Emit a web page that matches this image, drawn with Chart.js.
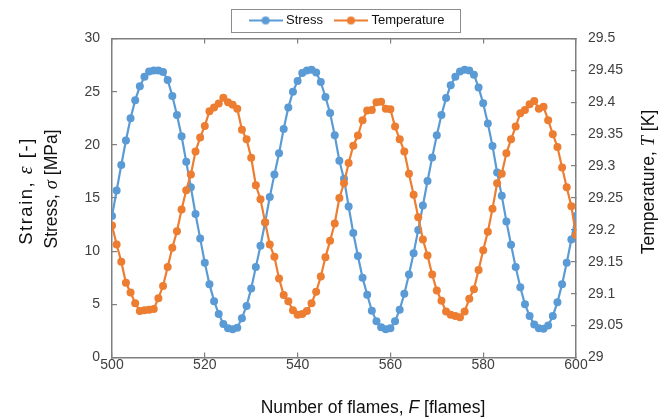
<!DOCTYPE html>
<html>
<head>
<meta charset="utf-8">
<script src="https://cdn.jsdelivr.net/npm/chart.js@4.4.1/dist/chart.umd.min.js"></script>
<style>
  body { margin: 0; background: #fff; }
  #wrap { width: 668px; height: 419px; }
</style>
</head>
<body>
<div id="wrap"><canvas id="chart" width="668" height="419"></canvas></div>
<script>
// =========================
// DATA
// =========================

const frames = [
  500, 501, 502, 503, 504, 505, 506, 507, 508, 509,
  510, 511, 512, 513, 514, 515, 516, 517, 518, 519,
  520, 521, 522, 523, 524, 525, 526, 527, 528, 529,
  530, 531, 532, 533, 534, 535, 536, 537, 538, 539,
  540, 541, 542, 543, 544, 545, 546, 547, 548, 549,
  550, 551, 552, 553, 554, 555, 556, 557, 558, 559,
  560, 561, 562, 563, 564, 565, 566, 567, 568, 569,
  570, 571, 572, 573, 574, 575, 576, 577, 578, 579,
  580, 581, 582, 583, 584, 585, 586, 587, 588, 589,
  590, 591, 592, 593, 594, 595, 596, 597, 598, 599,
  600
];

// stress [MPa]
const stress = [
  13.3, 15.7, 18.1, 20.4, 22.5, 24.2, 25.5, 26.4, 26.9, 27.0,
  27.0, 26.85, 26.1, 24.6, 22.8, 20.8, 18.4, 16.0, 13.5, 11.2,
  8.9, 6.9, 5.3, 4.1, 3.15, 2.75, 2.65, 2.8, 3.7, 4.85,
  6.5, 8.5, 10.5, 12.7, 15.1, 17.2, 19.2, 21.5, 23.5, 25.0,
  26.0, 26.75, 27.0, 27.05, 26.8, 25.9, 24.5, 23.0, 20.9, 18.5,
  16.8, 14.2, 11.7, 9.55, 7.5, 5.9, 4.4, 3.4, 2.85, 2.65,
  2.75, 3.4, 4.5, 6.0, 7.8, 9.8, 12.0, 14.3, 16.6, 18.8,
  20.9, 22.8, 24.4, 25.6, 26.4, 26.9, 27.05, 27.0, 26.6, 25.4,
  23.9, 22.0, 19.9, 17.4, 15.2, 12.8, 10.6, 8.5, 6.6, 5.0,
  3.9, 3.1, 2.75, 2.7, 3.0, 3.9, 5.2, 6.9, 8.9, 11.1,
  13.3
];

// temperature [K]
const temperature = [
  29.207, 29.177, 29.150, 29.117, 29.102, 29.085, 29.073, 29.074, 29.075, 29.076,
  29.093, 29.112, 29.142, 29.172, 29.198, 29.232, 29.262, 29.287, 29.323, 29.345,
  29.363, 29.386, 29.392, 29.398, 29.407, 29.400, 29.396, 29.390, 29.357, 29.342,
  29.313, 29.270, 29.248, 29.212, 29.177, 29.158, 29.124, 29.098, 29.088, 29.074,
  29.067, 29.068, 29.073, 29.085, 29.103, 29.127, 29.157, 29.183, 29.210, 29.250,
  29.273, 29.305, 29.332, 29.348, 29.372, 29.387, 29.388, 29.400, 29.401, 29.390,
  29.389, 29.362, 29.342, 29.323, 29.288, 29.255, 29.220, 29.185, 29.160, 29.130,
  29.105, 29.089, 29.072, 29.067, 29.065, 29.063, 29.072, 29.092, 29.107, 29.137,
  29.168, 29.197, 29.233, 29.273, 29.288, 29.320, 29.342, 29.362, 29.383, 29.388,
  29.397, 29.402, 29.390, 29.393, 29.372, 29.350, 29.330, 29.298, 29.267, 29.237,
  29.192
];

const seriesNames = ["Stress", "Temperature"];
const seriesColors = ["#5B9BD5", "#ED7D31"];

const stressTicks = { min: 0, max: 30, step: 5 };
const tempTicks = { min: 29, max: 29.5, step: 0.05 };
const frameTicks = { min: 500, max: 600, step: 20 };

// =========================
// STYLE
// =========================

const FONT = "'Liberation Sans', Arial, sans-serif";
const SERIF = "'Liberation Serif', 'Times New Roman', serif";
const axisGrey = "#7f7f7f";
const tickText = "#404040";

// legend sample: a short line with a marker
function legendSample(color)
{
  const c = document.createElement("canvas");
  c.width = 34;
  c.height = 10;
  const g = c.getContext("2d");
  g.strokeStyle = color;
  g.lineWidth = 2.2;
  g.beginPath();
  g.moveTo(0, 5);
  g.lineTo(34, 5);
  g.stroke();
  g.fillStyle = color;
  g.beginPath();
  g.arc(17, 5, 4, 0, Math.PI * 2);
  g.fill();
  return c;
}

const samples = seriesColors.map(legendSample);

// text with italic symbol parts, centred on (cx, cy)
function drawParts(ctx, parts, cx, cy, angle, spacing)
{
  ctx.save();
  ctx.translate(cx, cy);
  ctx.rotate(angle);
  ctx.textBaseline = "middle";
  ctx.textAlign = "left";
  ctx.fillStyle = "#111";
  if (spacing) ctx.letterSpacing = spacing;

  let total = 0;
  parts.forEach(p => {
    ctx.font = p.font;
    total += ctx.measureText(p.text).width;
  });

  let x = -total / 2;
  parts.forEach(p => {
    ctx.font = p.font;
    ctx.fillText(p.text, x, 0);
    x += ctx.measureText(p.text).width;
  });
  ctx.restore();
}

const titleSize = 17.5;
const plain = `${titleSize}px ${FONT}`;
const italicSans = `italic ${titleSize}px ${FONT}`;
const italicSerif = `italic ${titleSize + 1}px ${SERIF}`;
const strainPlain = `18.5px ${FONT}`;
const strainItalic = `italic 20px ${SERIF}`;

const titlesPlugin = {
  id: "axisTitles",
  afterDraw(chart)
  {
    const ctx = chart.ctx;

    drawParts(ctx, [
      { text: "Number of flames, ", font: plain },
      { text: "F", font: italicSans },
      { text: " [flames]", font: plain }
    ], 373, 408, 0);

    drawParts(ctx, [
      { text: "Strain, ", font: strainPlain },
      { text: "ε", font: strainItalic },
      { text: " [-]", font: strainPlain }
    ], 27, 191, -Math.PI / 2, "1.5px");

    drawParts(ctx, [
      { text: "Stress, ", font: plain },
      { text: "σ", font: italicSerif },
      { text: " [MPa]", font: plain }
    ], 52, 189, -Math.PI / 2);

    drawParts(ctx, [
      { text: "Temperature, ", font: plain },
      { text: "T", font: italicSerif },
      { text: " [K]", font: plain }
    ], 649, 182, -Math.PI / 2);
  }
};

// grey frame round the legend
const legendBoxPlugin = {
  id: "legendBox",
  afterDraw(chart)
  {
    const boxes = chart.legend && chart.legend.legendHitBoxes;
    if (!boxes || !boxes.length) return;
    const first = boxes[0];
    const last = boxes[boxes.length - 1];
    const ctx = chart.ctx;
    ctx.save();
    ctx.strokeStyle = "#8c8c8c";
    ctx.lineWidth = 1;
    const left = Math.round(first.left - 21) + 0.5;
    const right = Math.round(last.left + last.width + 16) + 0.5;
    const top = Math.round(first.top - 5) + 0.5;
    const bottom = Math.round(first.top + first.height + 5) + 0.5;
    ctx.strokeRect(left, top, right - left, bottom - top);
    ctx.restore();
  }
};

function innerGrid()
{
  return {
    drawOnChartArea: false,
    drawTicks: true,
    tickLength: -5,
    color: axisGrey,
    lineWidth: 1.2
  };
}

// 29.50 -> "29.5", 29.00 -> "29"
function shortNumber(v)
{
  return String(Number(Number(v).toFixed(2)));
}

const axisBorder = { display: true, color: axisGrey, width: 1.5 };
const tickFont = { family: FONT, size: 14 };

// =========================
// CHART
// =========================

new Chart(document.getElementById("chart"), {
  type: "line",
  data: {
    datasets: [
      {
        label: seriesNames[0],
        data: frames.map((f, i) => ({ x: f, y: stress[i] })),
        yAxisID: "y",
        borderColor: seriesColors[0],
        backgroundColor: seriesColors[0],
        borderWidth: 2.2,
        pointRadius: 4,
        pointBorderWidth: 0,
        pointBackgroundColor: seriesColors[0],
        tension: 0,
        order: 1
      },
      {
        label: seriesNames[1],
        data: frames.map((f, i) => ({ x: f, y: temperature[i] })),
        yAxisID: "y1",
        borderColor: seriesColors[1],
        backgroundColor: seriesColors[1],
        borderWidth: 2.2,
        pointRadius: 4,
        pointBorderWidth: 0,
        pointBackgroundColor: seriesColors[1],
        tension: 0,
        order: 0
      }
    ]
  },
  options: {
    responsive: false,
    animation: false,
    devicePixelRatio: 1,
    layout: { padding: { left: 28, right: 0, top: 0, bottom: 0 } },
    plugins: {
      tooltip: { enabled: false },
      legend: {
        display: true,
        position: "top",
        labels: {
          usePointStyle: true,
          pointStyleWidth: 28,
          padding: 14,
          color: "#111",
          font: { family: FONT, size: 13 },
          sort: (a, b) => a.datasetIndex - b.datasetIndex,
          generateLabels(chart)
          {
            const items =
              Chart.defaults.plugins.legend.labels.generateLabels(chart);
            items.forEach(it => { it.pointStyle = samples[it.datasetIndex]; });
            return items;
          }
        }
      }
    },
    scales: {
      x: {
        type: "linear",
        position: "bottom",
        min: frameTicks.min,
        max: frameTicks.max,
        ticks: {
          stepSize: frameTicks.step,
          padding: 4,
          color: tickText,
          font: tickFont,
          maxRotation: 0,
          callback: shortNumber
        },
        grid: innerGrid(),
        border: axisBorder,
        afterFit(scale) { scale.height = 61.5; }
      },
      x2: {
        type: "linear",
        position: "top",
        display: true,
        min: frameTicks.min,
        max: frameTicks.max,
        ticks: { stepSize: frameTicks.step, display: false },
        grid: innerGrid(),
        border: axisBorder,
        afterFit(scale) { scale.height = 1.5; }
      },
      y: {
        type: "linear",
        position: "left",
        min: stressTicks.min,
        max: stressTicks.max,
        ticks: {
          stepSize: stressTicks.step,
          padding: 17,
          color: tickText,
          font: tickFont,
          callback: shortNumber
        },
        grid: innerGrid(),
        border: axisBorder,
        afterFit(scale) { scale.width = 84; }
      },
      y1: {
        type: "linear",
        position: "right",
        min: tempTicks.min,
        max: tempTicks.max,
        ticks: {
          stepSize: tempTicks.step,
          padding: 17,
          color: tickText,
          font: tickFont,
          callback: shortNumber
        },
        grid: innerGrid(),
        border: axisBorder,
        afterFit(scale) { scale.width = 92; }
      }
    }
  },
  plugins: [titlesPlugin, legendBoxPlugin]
});
</script>
</body>
</html>
